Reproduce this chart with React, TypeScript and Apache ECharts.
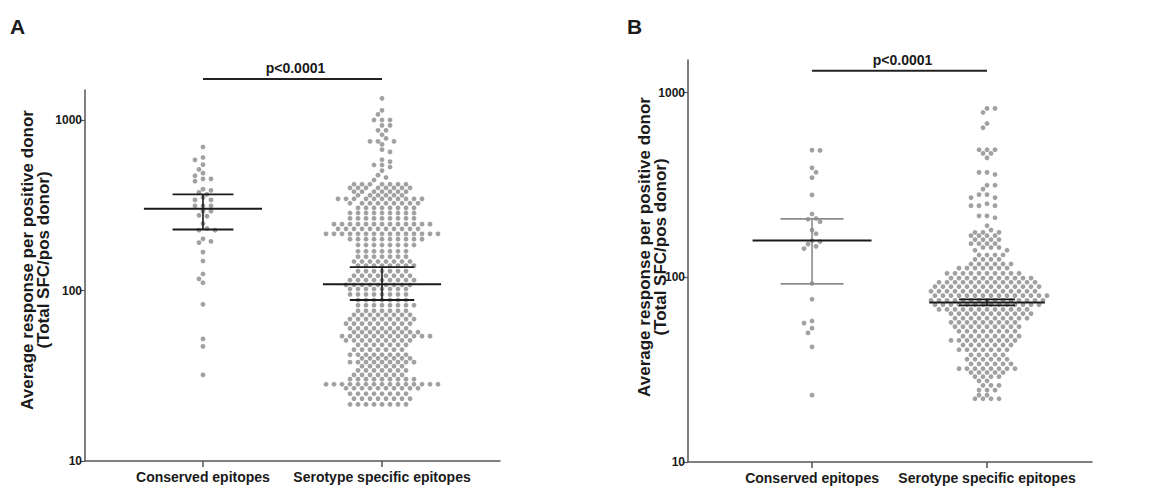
import React, { useEffect, useRef } from "react";
import * as echarts from "echarts";

// ---------- data ----------
const categories = ["Conserved epitopes", "Serotype specific epitopes"];
const yTickValues = [10, 100, 1000];
const pLabel = "p<0.0001";
const yTitleLines = ["Average response per positive donor", "(Total SFC/pos donor)"];
const panelLetters = ["A", "B"];

// Panel A
const conservedA = [695, 603, 584, 548, 513, 488, 471, 452, 452, 438, 393, 387, 376, 366, 351, 340, 340, 314, 314, 314, 292, 292, 276, 273, 247, 231, 226, 226, 201, 194, 191, 168, 149, 125, 117, 111, 83, 52, 47, 32];
const serotypeA_rowValues = [1340, 1140, 1080, 1000, 930, 870, 820, 780, 750, 720, 670, 650, 585, 570, 545, 530, 505, 475, 460, 445,
  420, 400, 380, 362, 345, 325, 305, 285, 265, 245, 230, 215, 200, 185, 170, 158, 148, 140, 130, 122, 115, 108, 102, 95, 88, 82, 76, 72, 68, 64, 60, 57, 54, 51, 48, 45, 42, 40, 38, 36, 34, 32, 30.2, 28.2, 26.7, 24.8, 23.2, 21.5];
const serotypeA_rowCounts = [1, 1, 1, 3, 2, 2, 1, 1, 3, 1, 1, 1, 1, 1, 2, 1, 1, 1, 1, 1,
  7, 8, 7, 6, 11, 9, 8, 9, 9, 13, 11, 15, 10, 8, 7, 7, 8, 8, 7, 8, 9, 9, 8, 8, 7, 8, 7, 8, 9, 9, 8, 9, 12, 9, 7, 7, 8, 7, 9, 6, 7, 7, 9, 15, 10, 8, 8, 8];
const medianA = [302, 109];
const lowerA = [228, 88];
const upperA = [366, 137];

// Panel B
const conservedB = [488, 486, 391, 370, 346, 279, 220, 208, 206, 200, 180, 172, 158, 156, 151, 147, 143, 92.5, 76, 58, 56.5, 53, 50, 42, 23];
const serotypeB_rowValues = [820, 780, 680, 645, 490, 468, 443, 370, 360, 315, 300, 280, 270, 250, 244, 215, 210, 190, 180, 175, 168, 160, 152, 145, 140, 132,
  125, 118, 112, 105, 99, 94, 89, 84, 79.5, 75, 71, 67, 63.5, 60, 57, 54, 51, 48, 45.5, 43, 40.5, 38, 36, 34, 32, 30.5, 29, 27.5, 26, 24.5, 23, 22];
const serotypeB_rowCounts = [2, 1, 1, 1, 3, 2, 1, 2, 1, 2, 1, 2, 2, 1, 3, 2, 1, 1, 1, 3, 4, 4, 4, 3, 2, 4,
  4, 6, 7, 10, 11, 13, 14, 14, 15, 15, 14, 12, 11, 10, 9, 9, 8, 8, 9, 7, 7, 5, 6, 6, 8, 5, 4, 2, 3, 3, 2, 4];
const medianB = [158, 73];
const lowerB = [92, 70.5];
const upperB = [207, 76];

// ---------- layout / style ----------
const FONT = '"Liberation Sans", Arial, Helvetica, sans-serif';
const Y_MIN = 10;
const Y_MAX = 1500;
const panelA = { left: 85, top: 90, width: 415, height: 371, xMin: -0.659, xMax: 1.659, bracketY: 1740 };
const panelB = { left: 688, top: 60, width: 404, height: 402, xMin: -0.709, xMax: 1.6, bracketY: 1310 };
const DOT_COLOR = "#8a8a8a";
const AXIS_COLOR = "#555555";
const TEXT_COLOR = "#1a1a1a";

function expand(values: number[], counts: number[]): number[] {
  const out: number[] = [];
  values.forEach((v, i) => {
    for (let k = 0; k < counts[i]; k++) out.push(v);
  });
  return out;
}

// beeswarm layout: offsets computed in pixel space, returned as data units
function swarm(values: number[], center: number, p: typeof panelA): number[][] {
  const pxX = p.width / (p.xMax - p.xMin);
  const pxDec = p.height / (Math.log10(Y_MAX) - Math.log10(Y_MIN));
  const S = 8;
  const D = 5;
  const left: number[] = [0];
  const right: number[] = [0];
  for (let k = 1; k <= 30; k++) {
    left.push((-k * S) / 2, (k * S) / 2);
    right.push((k * S) / 2, (-k * S) / 2);
  }
  const sorted = [...values].sort((a, b) => b - a);
  const placed: { x: number; y: number }[] = [];
  const out: number[][] = [];
  sorted.forEach((v, idx) => {
    const y = Math.log10(v) * pxDec;
    const near = placed.filter((q) => Math.abs(q.y - y) < D);
    const cands = idx % 2 === 0 ? left : right;
    let chosen = 0;
    for (const c of cands) {
      if (near.every((q) => (q.x - c) ** 2 + (q.y - y) ** 2 >= D * D)) {
        chosen = c;
        break;
      }
    }
    placed.push({ x: chosen, y });
    out.push([center + chosen / pxX, v]);
  });
  return out;
}

function mkX(p: typeof panelA, gi: number) {
  return {
    type: "value",
    gridIndex: gi,
    min: p.xMin,
    max: p.xMax,
    axisLine: { show: true, onZero: false, lineStyle: { color: AXIS_COLOR, width: 1.5 } },
    axisTick: { show: true, customValues: [0, 1], length: 6, lineStyle: { color: AXIS_COLOR, width: 1.5 } },
    axisLabel: {
      show: true,
      customValues: [0, 1],
      formatter: (v: number) => categories[Math.round(v)] ?? "",
      fontSize: 14,
      fontWeight: "bold",
      color: TEXT_COLOR,
      fontFamily: FONT,
      margin: 9,
    },
    splitLine: { show: false },
  };
}

function mkY(gi: number) {
  return {
    type: "log",
    logBase: 10,
    gridIndex: gi,
    min: Y_MIN,
    max: Y_MAX,
    axisLine: { show: true, onZero: false, lineStyle: { color: AXIS_COLOR, width: 1.5 } },
    axisTick: { show: true, customValues: yTickValues, length: 5, lineStyle: { color: AXIS_COLOR, width: 1.2 } },
    axisLabel: {
      show: true,
      customValues: yTickValues,
      formatter: (v: number) => String(Math.round(v)),
      fontSize: 12,
      fontWeight: "bold",
      color: TEXT_COLOR,
      fontFamily: FONT,
      margin: 3,
    },
    splitLine: { show: false },
    minorTick: { show: false },
  };
}

function scatter(data: number[][], gi: number) {
  return {
    type: "scatter",
    xAxisIndex: gi,
    yAxisIndex: gi,
    data,
    symbol: "circle",
    symbolSize: 4.8,
    itemStyle: { color: DOT_COLOR },
    silent: true,
    z: 2,
  };
}

function summary(
  med: number[],
  lo: number[],
  hi: number[],
  gi: number,
  halfLong: number[],
  halfShort: number[],
  medColor: string[],
  errColor: string[]
) {
  return {
    type: "custom",
    xAxisIndex: gi,
    yAxisIndex: gi,
    silent: true,
    z: 5,
    clip: false,
    data: med.map((m, i) => [i, m, lo[i], hi[i]]),
    encode: { x: 0, y: 1 },
    renderItem: (params: any, api: any) => {
      const i = params.dataIndex;
      const c = api.value(0);
      const m = api.value(1);
      const l = api.value(2);
      const h = api.value(3);
      const P = (x: number, y: number) => api.coord([x, y]);
      const seg = (a: number[], b: number[], color: string, w: number) => ({
        type: "line",
        shape: { x1: a[0], y1: a[1], x2: b[0], y2: b[1] },
        style: { stroke: color, lineWidth: w },
      });
      const hl = halfLong[i];
      const hs = halfShort[i];
      return {
        type: "group",
        children: [
          seg(P(c, l), P(c, h), errColor[i], 1.6),
          seg(P(c - hs, h), P(c + hs, h), errColor[i], 1.8),
          seg(P(c - hs, l), P(c + hs, l), errColor[i], 1.8),
          seg(P(c - hl, m), P(c + hl, m), medColor[i], 2),
        ],
      };
    },
  };
}

function bracket(p: typeof panelA, gi: number) {
  return {
    type: "custom",
    xAxisIndex: gi,
    yAxisIndex: gi,
    silent: true,
    clip: false,
    z: 5,
    data: [[0.5, p.bracketY]],
    encode: { x: 0, y: 1 },
    renderItem: (_params: any, api: any) => {
      const y = api.value(1);
      const a = api.coord([0, y]);
      const b = api.coord([1, y]);
      return {
        type: "group",
        children: [
          {
            type: "line",
            shape: { x1: a[0], y1: a[1], x2: b[0], y2: b[1] },
            style: { stroke: "#222", lineWidth: 2 },
          },
          {
            type: "text",
            x: (a[0] + b[0]) / 2 + 3,
            y: a[1] - 4,
            style: {
              text: pLabel,
              align: "center",
              verticalAlign: "bottom",
              textAlign: "center",
              textVerticalAlign: "bottom",
              font: `bold 14px ${FONT}`,
              fill: TEXT_COLOR,
            },
          },
        ],
      };
    },
  };
}

function yTitle(x: number, y: number) {
  return {
    type: "text",
    x,
    y,
    rotation: Math.PI / 2,
    style: {
      text: yTitleLines.join("\n"),
      align: "center",
      verticalAlign: "middle",
      textAlign: "center",
      textVerticalAlign: "middle",
      font: `bold 17px ${FONT}`,
      lineHeight: 16,
      fill: TEXT_COLOR,
    },
  };
}

function letter(t: string, x: number, y: number) {
  return {
    type: "text",
    x,
    y,
    style: { text: t, font: `bold 21px ${FONT}`, fill: TEXT_COLOR, align: "left", verticalAlign: "top" },
  };
}

export default function App() {
  const ref = useRef<HTMLDivElement>(null);
  useEffect(() => {
    if (!ref.current) return;
    const chart = echarts.init(ref.current, null, { renderer: "svg" });
    const serA = expand(serotypeA_rowValues, serotypeA_rowCounts);
    const serB = expand(serotypeB_rowValues, serotypeB_rowCounts);
    const option: any = {
      animation: false,
      backgroundColor: "#ffffff",
      textStyle: { fontFamily: FONT },
      grid: [
        { left: panelA.left, top: panelA.top, width: panelA.width, height: panelA.height },
        { left: panelB.left, top: panelB.top, width: panelB.width, height: panelB.height },
      ],
      xAxis: [mkX(panelA, 0), mkX(panelB, 1)],
      yAxis: [mkY(0), mkY(1)],
      series: [
        scatter(swarm(conservedA, 0, panelA), 0),
        scatter(swarm(serA, 1, panelA), 0),
        scatter(swarm(conservedB, 0, panelB), 1),
        scatter(swarm(serB, 1, panelB), 1),
        summary(medianA, lowerA, upperA, 0, [0.33, 0.33], [0.17, 0.18], ["#1a1a1a", "#1a1a1a"], ["#1a1a1a", "#1a1a1a"]),
        summary(medianB, lowerB, upperB, 1, [0.34, 0.33], [0.18, 0.16], ["#1a1a1a", "#1a1a1a"], ["#8c8c8c", "#1a1a1a"]),
        bracket(panelA, 0),
        bracket(panelB, 1),
      ],
      graphic: [
        letter(panelLetters[0], 10, 16),
        letter(panelLetters[1], 627, 16),
        yTitle(35, 260),
        yTitle(652, 247),
      ],
    };
    chart.setOption(option);
    return () => chart.dispose();
  }, []);
  return (
    <div
      ref={ref}
      style={{ position: "fixed", left: 0, top: 0, width: 1153, height: 491, background: "#fff" }}
    />
  );
}
